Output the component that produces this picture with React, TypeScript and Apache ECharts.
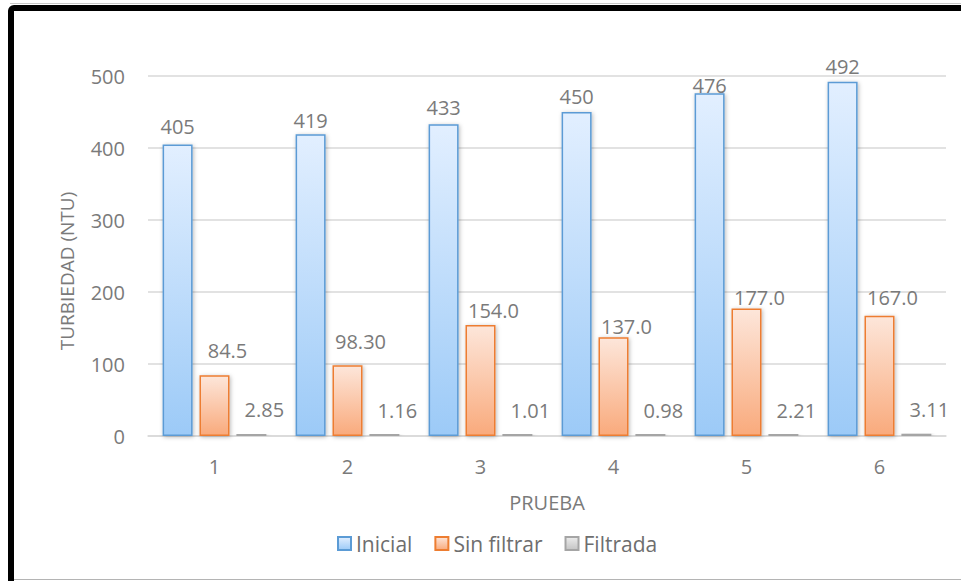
import React, { useEffect, useRef } from "react";
import * as echarts from "echarts";

// Test runs and measured turbidity (NTU)
const pruebas = ["1", "2", "3", "4", "5", "6"];
const inicial = [405, 419, 433, 450, 476, 492];
const sinFiltrar = [84.5, 98.3, 154.0, 137.0, 177.0, 167.0];
const filtrada = [2.85, 1.16, 1.01, 0.98, 2.21, 3.11];

// Printed value text for each series
const inicialText = ["405", "419", "433", "450", "476", "492"];
const sinFiltrarText = ["84.5", "98.30", "154.0", "137.0", "177.0", "167.0"];
const filtradaText = ["2.85", "1.16", "1.01", "0.98", "2.21", "3.11"];

// Hand-placed label gaps above each bar (px)
const inicialLabelGap = [8, 4, 7, 6, -2, 5];
const sinFiltrarLabelGap = [15, 14, 5, 1, 1, 8];
const filtradaLabelGap = [14, 14, 14, 14, 14, 14];

const FONT = "'Open Sans', 'Noto Sans', sans-serif";
const TEXT = "#7a7a7a";

const grad = (top: string, bottom: string) =>
  new echarts.graphic.LinearGradient(0, 0, 0, 1, [
    { offset: 0, color: top },
    { offset: 1, color: bottom },
  ]);

function makeSeries(
  name: string,
  values: number[],
  texts: string[],
  gaps: number[],
  fillTop: string,
  fillBottom: string,
  border: string,
  dx: number
) {
  return {
    name,
    type: "bar",
    barWidth: 30,
    barGap: "23%",
    barMinHeight: 2,
    itemStyle: {
      color: grad(fillTop, fillBottom),
      borderColor: border,
      borderWidth: 1.5,
      shadowColor: "rgba(0,0,0,0.28)",
      shadowBlur: 4,
      shadowOffsetX: 1,
      shadowOffsetY: 1,
    },
    data: values.map((v, i) => ({
      value: v,
      label: {
        show: true,
        position: "top",
        distance: gaps[i],
        offset: [dx, 0],
        formatter: () => texts[i],
        color: TEXT,
        fontFamily: FONT,
        fontSize: 20,
        lineHeight: 20,
      },
    })),
  };
}

export default function App() {
  const ref = useRef<HTMLDivElement>(null);

  useEffect(() => {
    if (!ref.current) return;
    const chart = echarts.init(ref.current, undefined, { renderer: "svg" });
    chart.setOption({
      animation: false,
      backgroundColor: "#ffffff",
      textStyle: { fontFamily: FONT },
      graphic: [
        {
          type: "line",
          shape: { x1: 10, y1: 3.5, x2: 961, y2: 3.5 },
          style: { stroke: "#c8c8c8", lineWidth: 1 },
          silent: true,
        },
        {
          type: "rect",
          shape: { x: 11, y: 8, width: 1000, height: 700, r: 3 },
          style: { fill: "none", stroke: "#000000", lineWidth: 6 },
          silent: true,
        },
        {
          type: "line",
          shape: { x1: 14, y1: 579.5, x2: 961, y2: 579.5 },
          style: { stroke: "#b4b4b4", lineWidth: 1 },
          silent: true,
        },
      ],
      grid: { left: 148, right: 15, top: 76, bottom: 145 },
      legend: {
        bottom: 22,
        left: 332,
        icon: "rect",
        itemWidth: 13,
        itemHeight: 13,
        itemGap: 22,
        textStyle: { color: "#6e6e6e", fontSize: 21, fontFamily: FONT },
        data: ["Inicial", "Sin filtrar", "Filtrada"],
      },
      xAxis: {
        type: "category",
        data: pruebas,
        name: "PRUEBA",
        nameLocation: "middle",
        nameGap: 56,
        nameTextStyle: { color: TEXT, fontSize: 20, fontFamily: FONT },
        axisTick: { show: false },
        axisLine: { lineStyle: { color: "#d9d9d9", width: 1.5 } },
        axisLabel: { color: TEXT, fontSize: 20, fontFamily: FONT, margin: 20 },
      },
      yAxis: {
        type: "value",
        min: 0,
        max: 500,
        interval: 100,
        name: "TURBIEDAD (NTU)",
        nameLocation: "middle",
        nameGap: 72,
        nameTextStyle: { color: TEXT, fontSize: 19, fontFamily: FONT, padding: [0, 30, 0, 0] },
        axisLine: { show: false },
        axisTick: { show: false },
        axisLabel: { color: TEXT, fontSize: 20, fontFamily: FONT, margin: 23 },
        splitLine: { lineStyle: { color: "#d9d9d9", width: 1.5 } },
      },
      series: [
        makeSeries("Inicial", inicial, inicialText, inicialLabelGap, "#e2efff", "#9ccaf7", "#5b9bd5", 0),
        makeSeries("Sin filtrar", sinFiltrar, sinFiltrarText, sinFiltrarLabelGap, "#fde6da", "#f9aa7c", "#ed7d31", 13),
        makeSeries("Filtrada", filtrada, filtradaText, filtradaLabelGap, "#ececec", "#c4c4c4", "#a5a5a5", 13),
      ],
    });
    return () => chart.dispose();
  }, []);

  return (
    <div
      ref={ref}
      style={{ position: "fixed", left: 0, top: 0, width: 961, height: 581 }}
    />
  );
}
